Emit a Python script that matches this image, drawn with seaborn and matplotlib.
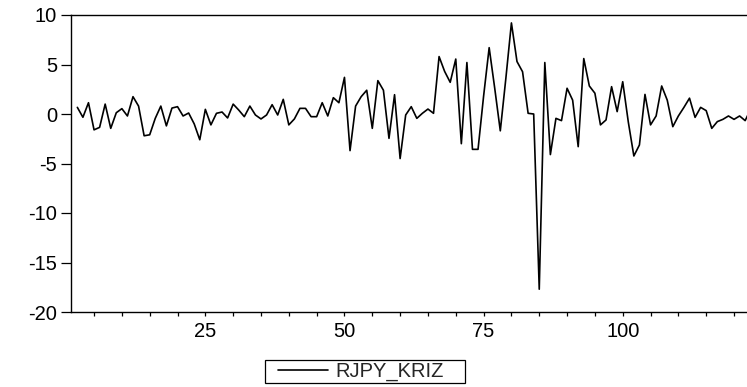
import numpy as np
import pandas as pd
import matplotlib
matplotlib.use("Agg")
import matplotlib.pyplot as plt
from matplotlib.patches import Rectangle
import seaborn as sns

# Observation numbers (series starts at obs 2: first difference is undefined)
obs = list(range(2, 124))

# RJPY_KRIZ values
rjpy_kriz = [
    0.67, -0.33, 1.14, -1.60, -1.35, 1.00, -1.45, 0.13, 0.54,            # 2-10
    -0.20, 1.75, 0.80, -2.20, -2.10, -0.44, 0.80, -1.20, 0.60, 0.74,     # 11-20
    -0.20, 0.10, -1.00, -2.60, 0.47, -1.10, 0.07, 0.20, -0.40, 1.00,     # 21-30
    0.40, -0.27, 0.80, -0.10, -0.50, -0.10, 0.94, -0.10, 1.48, -1.10,    # 31-40
    -0.50, 0.57, 0.57, -0.27, -0.27, 1.14, -0.20, 1.65, 1.14, 3.70,      # 41-50
    -3.70, 0.80, 1.75, 2.40, -1.45, 3.37, 2.40, -2.46, 1.95, -4.50,      # 51-60
    -0.10, 0.74, -0.44, 0.07, 0.50, 0.07, 5.80, 4.30, 3.20, 5.55,        # 61-70
    -3.00, 5.20, -3.57, -3.57, 1.80, 6.70, 2.60, -1.70, 3.60, 9.20,      # 71-80
    5.30, 4.27, 0.07, 0.00, -17.70, 5.20, -4.10, -0.44, -0.67, 2.60,     # 81-90
    1.40, -3.30, 5.60, 2.83, 2.10, -1.10, -0.60, 2.76, 0.24, 3.26,       # 91-100
    -0.80, -4.24, -3.13, 1.98, -1.10, -0.20, 2.83, 1.40, -1.28, -0.20,   # 101-110
    0.67, 1.60, -0.34, 0.67, 0.34, -1.45, -0.77, -0.54, -0.20, -0.54,    # 111-120
    -0.20, -0.67, 0.50,                                                  # 121-123
]

series_name = "RJPY_KRIZ"
y_ticks = [-20, -15, -10, -5, 0, 5, 10]
x_labels = [25, 50, 75, 100]

df = pd.DataFrame({"obs": obs, "value": rjpy_kriz})

sns.set_style("ticks")
plt.rcParams["font.family"] = ["Liberation Sans", "DejaVu Sans"]
plt.rcParams["axes.unicode_minus"] = False

W, H = 747, 387
FS = 14.5

fig = plt.figure(figsize=(W / 100, H / 100), dpi=100)
ax = fig.add_axes([71 / W, 75 / H, 1 - 71 / W + 0.002, (312 - 15) / H])

sns.lineplot(data=df, x="obs", y="value", color="black", linewidth=1.2,
             ax=ax, label=series_name, legend=False)

ax.set_xlim(0.86, 122.6)
ax.set_ylim(-20, 10)
ax.set_xlabel("")
ax.set_ylabel("")

ax.set_yticks(y_ticks)
ax.set_yticklabels([str(v) for v in y_ticks])
xt = list(range(5, 125, 5))
ax.set_xticks(xt)
ax.set_xticklabels([str(v) if v in x_labels else "" for v in xt])

ax.tick_params(axis="y", direction="out", length=7, width=0.9,
               labelsize=FS, pad=3, colors="black")
ax.tick_params(axis="x", direction="out", length=3, width=0.9,
               labelsize=FS, pad=4, colors="black")

for side in ("left", "bottom", "top"):
    ax.spines[side].set_visible(True)
    ax.spines[side].set_linewidth(1.0)
    ax.spines[side].set_color("black")
ax.spines["right"].set_visible(False)

# Legend below the plot, in a square black box
handles, labels = ax.get_lines()[:1], [series_name]
leg = fig.legend(handles, labels, loc="center left",
                 bbox_to_anchor=(278 / W, 1 - 371.5 / H),
                 frameon=False, fontsize=FS,
                 handlelength=50 / (FS * 100 / 72), handletextpad=0.35,
                 borderpad=0, borderaxespad=0)
fig.patches.append(Rectangle((265 / W, 1 - 383 / H), 200 / W, 23 / H,
                             transform=fig.transFigure, fill=False,
                             edgecolor="black", linewidth=0.9))

fig.savefig("out.png", dpi=100)
